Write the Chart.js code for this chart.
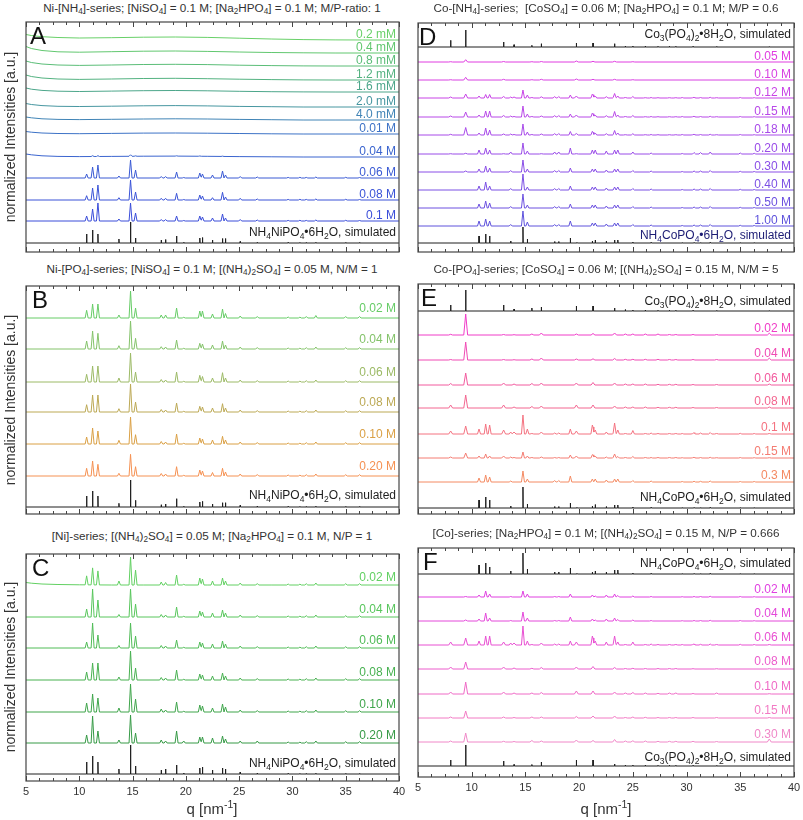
<!DOCTYPE html>
<html>
<head>
<meta charset="utf-8">
<script src="https://cdn.jsdelivr.net/npm/chart.js@4.4.0/dist/chart.umd.min.js"></script>
<style>
  body { margin: 0; background: #fff; font-family: "Liberation Sans", Arial, sans-serif; color: #333; }
  #page { position: relative; width: 803px; height: 820px; overflow: hidden; }
  canvas { position: absolute; }
  .title { position: absolute; font-size: 11.7px; line-height: 14px; white-space: nowrap; transform: translateX(-50%); color: #333; }
  .ylab { position: absolute; font-size: 14px; white-space: nowrap; transform: translate(-50%, -50%) rotate(-90deg); color: #333; }
  .xlab { position: absolute; font-size: 15px; line-height: 17px; white-space: nowrap; transform: translateX(-50%); color: #333; }
  sub { font-size: 70%; line-height: 0; vertical-align: -0.3em; }
  sup { font-size: 70%; line-height: 0; vertical-align: 0.55em; }
</style>
</head>
<body>
<div id="page"></div>
<script>
// peak positions (q, nm^-1) of the three phases
const qNi = [10.69, 11.25, 11.75, 13.72, 14.81, 15.28, 17.69, 18.10, 19.13, 19.80, 21.31, 21.56, 22.50, 23.44, 23.72, 25.10, 26.70, 29.60, 30.70, 31.30, 32.20, 35.00, 36.30];
const qCo = [10.68, 11.30, 11.67, 13.63, 14.77, 15.18, 17.72, 18.10, 19.18, 19.80, 21.23, 21.50, 22.53, 23.30, 23.60, 25.00, 26.70, 29.60, 30.70, 31.30, 32.20, 35.00, 36.30];
const qCo3 = [8.04, 9.44, 12.97, 13.94, 15.60, 16.48, 19.74, 21.29, 23.30, 24.30, 25.00, 26.16, 27.34, 28.40, 29.00, 30.60, 32.80, 37.70];
// grid for the broad (amorphous) backgrounds
const bgQ = [5, 5.5, 6.5, 8, 10, 13, 16, 19, 22, 25, 28, 31, 34, 37, 40];
const tickLabels = [5, 10, 15, 20, 25, 30, 35, 40];

// ---- A : Ni-[NH4]-series
const labelsA = ['0.2 mM', '0.4 mM', '0.8 mM', '1.2 mM', '1.6 mM', '2.0 mM', '4.0 mM', '0.01 M', '0.04 M', '0.06 M', '0.08 M', '0.1 M'];
const offsetsA = [212, 199, 186, 172, 160, 145, 132, 118, 95, 74, 52, 31];
const bgA = [
  [5.5, 4.5, 3.3, 2.5, 2, 2.3, 2.8, 3, 2.6, 1.8, 1, 0.4, 0.1, 0, 0],
  [6.5, 4.5, 2.5, 1.2, 0.8, 1.3, 1.8, 2, 1.6, 1, 0.5, 0.2, 0, 0, 0],
  [5, 3.5, 2, 1, 0.6, 1, 1.5, 1.7, 1.4, 0.8, 0.4, 0.1, 0, 0, 0],
  [5, 3.5, 2, 1, 0.6, 1, 1.5, 1.7, 1.3, 0.8, 0.4, 0.1, 0, 0, 0],
  [4, 2.8, 1.6, 0.8, 0.5, 0.9, 1.3, 1.5, 1.2, 0.7, 0.3, 0.1, 0, 0, 0],
  [3.5, 2.5, 1.4, 0.7, 0.5, 0.8, 1.2, 1.4, 1.1, 0.6, 0.3, 0, 0, 0, 0],
  [3, 2.2, 1.2, 0.6, 0.4, 0.7, 1, 1.2, 1, 0.6, 0.3, 0, 0, 0, 0],
  [2.5, 1.8, 1, 0.5, 0.3, 0.6, 0.9, 1, 0.8, 0.5, 0.2, 0, 0, 0, 0],
  [3, 2.2, 1.2, 0.6, 0.4, 0.6, 0.8, 0.9, 0.7, 0.4, 0.2, 0, 0, 0, 0],
  null, null, null
];
const niA = [
  null, null, null, null, null, null, null, null,
  [0, 0.8, 0.8, 0, 1.5, 0.4, 0, 0, 0.3, 0, 0.3, 0, 0, 0.3, 0, 0, 0, 0, 0, 0, 0, 0, 0],
  [4, 11, 13, 2, 18, 8, 1.5, 1.5, 6, 0.5, 5, 4, 3, 7, 3, 1.5, 1, 0.6, 0.7, 0.6, 1, 0.7, 0.5],
  [4.3, 12, 15, 2.3, 20, 8, 1.7, 1.7, 6.7, 0.5, 5, 4, 2.3, 7.7, 3, 1.7, 1, 0.6, 0.7, 0.6, 1, 0.7, 0.5],
  [5, 12, 18, 2, 18, 8, 1.5, 1.5, 5, 0.5, 5, 4, 3, 7, 3, 1.5, 1, 0.6, 0.7, 0.6, 1, 0.7, 0.5]
];
const simA = [9, 13, 9, 4, 21, 5, 3, 3.5, 7, 0.7, 5, 5.5, 3, 4.5, 4.5, 1.5, 0.7, 0.5, 0.5, 0.5, 0.7, 0.5, 0.5];
const simOffsetA = 9;

// ---- B : Ni-[PO4]-series
const labelsB = ['0.02 M', '0.04 M', '0.06 M', '0.08 M', '0.10 M', '0.20 M'];
const offsetsB = [196, 165, 132, 102, 70, 38];
const niB = [
  [7.7, 14, 14, 3, 27, 10, 3, 3, 10, 0.7, 7, 7, 4, 9, 4.5, 2, 1.5, 1, 0.8, 1.5, 2.5, 1.5, 1.5],
  [8, 18, 15.7, 3.3, 28, 10.7, 2.3, 2, 9, 0.7, 5.7, 5, 4, 8, 4, 2, 1.5, 1, 0.8, 1.3, 2, 1.3, 1.3],
  [7.7, 16, 16, 4, 29, 10, 2.5, 2, 10, 0.7, 6.7, 5.5, 4, 9.3, 4, 2, 1.5, 1, 0.8, 1.3, 2, 1.3, 1.3],
  [7.3, 17, 17, 3.3, 28, 10, 2.5, 2, 9, 0.7, 5.7, 5, 4, 8.3, 4, 2, 1.5, 1, 0.8, 1.3, 2, 1.3, 1.3],
  [7, 16, 13, 3.7, 27, 9.3, 2.5, 2, 10, 0.7, 6, 5, 4, 7.7, 4, 2, 1.5, 1, 0.8, 1.3, 2, 1.3, 1.3],
  [7.7, 15, 11.7, 2.7, 21.7, 9.3, 2.5, 2, 9.3, 0.7, 6, 5, 3.5, 7.7, 4, 2, 1.5, 1, 0.8, 1.3, 2, 1.3, 1.3]
];
const simB = [11, 16, 11, 3.7, 27, 6.7, 2.3, 3, 8.3, 0.7, 5, 5.7, 3, 4.3, 4.3, 1.7, 1, 0.5, 0.5, 0.5, 0.8, 0.5, 0.5];
const simOffsetB = 7;

// ---- C : [Ni]-series
const labelsC = ['0.02 M', '0.04 M', '0.06 M', '0.08 M', '0.10 M', '0.20 M'];
const offsetsC = [196, 164, 133, 101, 69, 38];
const bgC = [[2.5, 1.8, 1, 0.5, 0.2, 0, 0, 0, 0, 0, 0, 0, 0, 0, 0], null, null, null, null, null];
const niC = [
  [9, 17, 14, 4, 28, 15, 3, 2.5, 10, 0.7, 7, 6, 4, 7, 4, 2, 1.5, 1, 0.8, 1.3, 2, 1.3, 1.3],
  [8, 28, 17, 2.5, 28, 13, 2.5, 2, 10, 0.7, 6, 5, 4, 7, 4, 2, 1.5, 1, 0.8, 1.3, 2, 1.3, 1.3],
  [6, 25, 13, 2.5, 25, 12, 2.5, 2, 8, 0.7, 6, 5, 4, 7, 4, 2, 1.5, 1, 0.8, 1.3, 2, 1.3, 1.3],
  [8, 17, 17, 3, 29, 12, 2.5, 2, 10, 0.7, 6, 5, 4, 7, 4, 2, 1.5, 1, 0.8, 1.3, 2, 1.3, 1.3],
  [9, 18, 14, 4, 28, 13, 3, 2, 10, 0.7, 7, 6, 4, 8, 5, 2, 1.5, 1, 0.8, 1.3, 2, 1.3, 1.3],
  [8, 27, 12, 3, 28, 10, 3, 2, 12, 2, 6, 6, 5, 7, 4, 2, 2, 1, 0.8, 1.3, 2, 1.3, 1.3]
];
const simC = [12, 18, 12, 5, 29, 8, 4, 5, 9, 1, 6, 7, 4, 6, 5, 2, 1, 0.5, 0.5, 0.5, 0.8, 0.5, 0.5];
const simOffsetC = 7;

// ---- D : Co-[NH4]-series
const simTopD = [6.7, 17, 5, 2.3, 1.7, 3.3, 4, 4, 3.3, 1, 1, 1, 0.7, 0.7, 0.7, 0.5, 0.5, 0.3];
const simTopOffsetD = 205;
const labelsD = ['0.05 M', '0.10 M', '0.12 M', '0.15 M', '0.18 M', '0.20 M', '0.30 M', '0.40 M', '0.50 M', '1.00 M'];
const offsetsD = [190, 172, 154, 135, 117, 98, 80, 62, 44, 26];
const co3D = [
  [0.3, 2.3, 0.5, 0, 0.3, 0.5, 1, 0.7, 0.7, 0, 0.3, 0, 0, 0, 0, 0, 0, 0],
  [0.3, 2.7, 0.7, 0, 0.3, 0.7, 1, 0.7, 0.7, 0, 0.3, 0, 0, 0, 0, 0, 0, 0],
  [1, 4, 1.5, 1, 0.5, 1.2, 2, 1.5, 1.5, 0.5, 0.5, 0.3, 0.3, 0.3, 0.3, 0.3, 0.3, 0],
  [1, 5, 1.5, 0.5, 0.5, 1, 2, 1.5, 1.5, 0.5, 0.5, 0.3, 0.3, 0.3, 0.3, 0.3, 0.3, 0],
  [0.7, 7.5, 1, 0.5, 0.5, 1, 1.5, 1, 1, 0.3, 0.3, 0.3, 0.3, 0.3, 0.3, 0.3, 0.3, 0],
  [0.3, 0.7, 0.3, 0, 0, 0.3, 0.3, 0, 0, 0, 0, 0, 0, 0, 0, 0, 0, 0],
  [0, 1, 0, 0, 0, 0, 0, 0, 0, 0, 0, 0, 0, 0, 0, 0, 0, 0],
  null, null, null
];
const coD = [
  null, null,
  [2, 3.5, 3.5, 1, 8, 3, 1.5, 1.5, 3, 0, 3, 2, 1.5, 3, 2, 1, 0.5, 0.5, 0.5, 0.5, 0.7, 0.5, 0.3],
  [2, 6, 6, 1, 11, 3, 1.5, 1.5, 3, 0, 3, 2, 1.5, 4, 2, 1, 0.5, 0.5, 0.5, 0.5, 0.7, 0.5, 0.3],
  [2, 7, 5, 1, 11, 3, 1.5, 1.5, 3.5, 0, 3, 2, 1.5, 3.5, 2, 1, 0.5, 0.5, 0.5, 0.5, 0.7, 0.5, 0.3],
  [4, 6, 4, 2, 11, 3, 2, 2, 6, 0, 4, 4, 3, 4, 4, 2, 1, 0.5, 1.5, 1.5, 2, 1, 0.7],
  [3, 6, 4, 1.5, 12, 3, 1.5, 1.5, 4, 0, 3, 3, 2, 3, 3, 1.5, 1, 0.5, 1, 1, 1.5, 0.7, 0.5],
  [4, 8, 4, 1.5, 16, 3, 1.5, 1.5, 4, 0, 3, 3, 2, 3, 3, 1.5, 1, 0.5, 1, 1, 1.5, 0.7, 0.5],
  [4, 7, 5, 1.5, 14, 3, 1.5, 1.5, 4, 0, 3, 3, 2, 3, 3, 1.5, 1, 0.5, 1, 1, 1.5, 0.7, 0.5],
  [5, 7, 5, 1.5, 15, 4, 1.5, 1.5, 5, 0, 3, 3, 2, 3, 3, 1.5, 1, 0.5, 1, 1, 1.5, 0.7, 0.5]
];
const simD = [7, 9, 7, 2, 16, 4, 1.5, 1.5, 5, 0.5, 2, 3, 2, 3, 3, 1, 0.5, 0.3, 0.3, 0.3, 0.5, 0.3, 0.3];
const simOffsetD = 9;

// ---- E : Co-[PO4]-series
const simTopE = [6, 21, 6, 2, 3, 4, 5, 5, 3, 1.5, 1, 1, 0.7, 0.7, 0.7, 0.5, 0.5, 0.3];
const simTopOffsetE = 203;
const labelsE = ['0.02 M', '0.04 M', '0.06 M', '0.08 M', '0.1 M', '0.15 M', '0.3 M'];
const offsetsE = [179, 154, 129, 106, 80, 56, 32];
const co3E = [
  [0.7, 21, 0.5, 0.3, 1, 2, 1, 1.5, 2, 1, 1, 1, 1, 0.5, 0.5, 0.5, 0.5, 1.8],
  [0.5, 18, 0.5, 0.3, 1, 2, 1, 1.2, 1.5, 0.7, 0.7, 0.7, 0.7, 0.5, 0.5, 0.5, 0.5, 1.8],
  [1.5, 12, 2, 1, 1.5, 2, 2, 2.5, 2, 1, 1, 1, 0.7, 0.7, 0.7, 0.5, 0.5, 1],
  [3, 13, 3, 1, 1.5, 2, 3, 3, 2, 1, 1, 1, 0.7, 0.7, 0.7, 0.5, 0.5, 1],
  [3, 8, 4, 2, 0.5, 2, 3, 3, 3, 0.5, 0.5, 0.5, 0.5, 0.5, 0.5, 0.5, 0.5, 0.5],
  [1, 5, 2, 0.5, 0.5, 1, 2, 2, 2, 0.5, 0.5, 0.5, 0.5, 0.5, 0.5, 0.3, 0.3, 0.3],
  null
];
const coE = [
  null, null, null, null,
  [5, 10, 9, 2, 19, 5, 1, 1, 5, 0, 7, 4, 2, 8, 4, 3, 1, 0.5, 1, 1, 1.5, 0.7, 0.5],
  [2, 4, 2, 1, 6, 2, 0.5, 0.5, 3, 0, 2, 2, 1, 2, 1.5, 1, 0.5, 0.3, 0.5, 0.5, 0.7, 0.5, 0.3],
  [4, 7, 5, 1, 11, 3, 1.5, 1.5, 6, 0, 3, 3, 2, 3, 3, 1.5, 1, 0.5, 0.7, 0.7, 1, 0.5, 0.5]
];
const simE = [8, 11, 8, 2, 21, 4, 1.5, 1.5, 5, 0.5, 2, 3.5, 1.5, 3, 3, 1, 0.5, 0.3, 0.3, 0.3, 0.5, 0.3, 0.3];
const simOffsetE = 6;

// ---- F : [Co]-series
const simTopF = [9, 11, 7, 3, 21, 5, 2, 2, 6, 0.5, 2, 3, 2, 4, 4, 1, 0.5, 0.3, 0.3, 0.3, 0.5, 0.3, 0.3];
const simTopOffsetF = 203;
const labelsF = ['0.02 M', '0.04 M', '0.06 M', '0.08 M', '0.10 M', '0.15 M', '0.30 M'];
const offsetsF = [180, 156, 132, 108, 83, 59, 35];
const co3F = [
  [0, 0.5, 0, 0, 0, 0, 0, 0, 0, 0, 0, 0, 0, 0, 0, 0, 0, 0],
  [0, 1, 0, 0, 0, 0, 0, 0, 0, 0, 0, 0, 0, 0, 0, 0, 0, 0],
  [3, 7, 3, 2, 0.5, 2, 3, 3, 2, 0.5, 1, 0.5, 0.5, 0.5, 0.5, 0.5, 0.5, 0.5],
  [2, 7, 2, 1, 0.7, 1.5, 2, 2.5, 1.5, 0.5, 0.7, 0.5, 0.5, 0.5, 0.5, 0.3, 0.3, 0.3],
  [2, 12, 2, 1, 1, 1.5, 3, 3, 2, 1, 1.5, 1, 0.7, 1, 1, 0.5, 1, 0.3],
  [1, 7, 1, 0.5, 1, 1, 1.5, 2, 2, 0.5, 1, 0.7, 0.5, 0.5, 0.5, 0.5, 0.5, 0.5],
  [1, 9, 0.7, 0.5, 1.5, 1, 2, 1.5, 2.5, 1, 1.2, 1, 0.7, 0.7, 0.7, 0.7, 0.5, 3]
];
const coF = [
  [2, 6, 3, 0.5, 6, 3, 0.5, 0.5, 3, 0, 2, 1, 2, 3, 1.5, 1, 0.5, 0.3, 0.5, 0.5, 0.7, 0.5, 0.3],
  [2, 8, 3, 0.5, 9, 3, 0.5, 0.5, 4, 0, 2, 1, 2, 3, 1.5, 1, 0.5, 0.3, 0.5, 0.5, 0.7, 0.5, 0.3],
  [4, 9, 9, 2, 19, 4, 1, 1, 4, 0, 7, 4, 3, 7, 3, 2, 1, 0.5, 0.7, 0.7, 1, 0.7, 0.5],
  null, null, null, null
];
const simF = [6, 21, 5, 1.5, 1.5, 4, 6, 6, 2, 1, 1, 1, 0.7, 0.7, 0.7, 0.5, 0.5, 0.3];
const simOffsetF = 11;

// colours
const colorsA = ['#68d068', '#61c76f', '#5abd77', '#53b280', '#4ca68a', '#4696a0', '#4084b6', '#3c72c6', '#3a64cf', '#3a5ad4', '#3a53d7', '#3a4dd9'];
const colorsB = ['#66cc66', '#84c36a', '#9cba66', '#bca955', '#daa045', '#f59152'];
const colorsC = ['#62d062', '#58c65c', '#50bc57', '#48b151', '#3fa54b', '#369a46'];
const colorsD = ['#e03ce0', '#d840e2', '#c844e6', '#b848e8', '#a84ae9', '#9a4ce8', '#8a4ee7', '#7b50e4', '#6c51e0', '#5e52dc'];
const colorsE = ['#f03cc8', '#f04ab4', '#f25a9e', '#f36690', '#f47280', '#f47c72', '#f48a62'];
const colorsF = ['#e040e0', '#e448da', '#e850d2', '#ec5ccc', '#ef6ac6', '#f27ac4', '#f088c8'];
const SIM_COLOR = '#1e1e1e';

const W_EXP = 0.14, W_CO3 = 0.18, W_SIM = 0.02;
const FONT = '"Liberation Sans", Arial, sans-serif';

const page = document.getElementById('page');

function bgAt(bg, x) {
  for (let i = 0; i < bgQ.length - 1; i++) {
    if (x <= bgQ[i + 1]) {
      const t = (x - bgQ[i]) / (bgQ[i + 1] - bgQ[i]);
      return bg[i] + t * (bg[i + 1] - bg[i]);
    }
  }
  return bg[bg.length - 1];
}

// line through baseline + triangular peaks at the read positions/heights
function buildTrace(offset, phases, bg) {
  const xs = [5, 40];
  if (bg) xs.push(...bgQ);
  phases.forEach(p => p.q.forEach((q, i) => {
    if (p.h[i] > 0) xs.push(q - p.w, q, q + p.w);
  }));
  const uniq = [...new Set(xs.map(x => +x.toFixed(4)))].sort((a, b) => a - b);
  return uniq.map(x => {
    let y = offset + (bg ? bgAt(bg, x) : 0);
    phases.forEach(p => p.q.forEach((q, i) => {
      const d = Math.abs(x - q);
      if (p.h[i] > 0 && d < p.w) y += p.h[i] * (1 - d / p.w);
    }));
    return { x, y };
  });
}

function expTraces(labels, offsets, colors, lift, sets, bgs) {
  return labels.map((lab, i) => {
    const phases = [];
    sets.forEach(s => { if (s.h[i]) phases.push({ q: s.q, h: s.h[i], w: s.w }); });
    return { label: lab, color: colors[i], textColor: colors[i], offset: offsets[i], lift: lift,
             data: buildTrace(offsets[i], phases, bgs ? bgs[i] : null) };
  });
}

function simTrace(label, q, h, offset, lift, textColor) {
  return { label: label, color: SIM_COLOR, textColor: textColor || SIM_COLOR, offset: offset, lift: lift,
           data: buildTrace(offset, [{ q: q, h: h, w: W_SIM }], null) };
}

function drawRich(ctx, text, xRight, yBase, color) {
  const parts = text.split(/_(\d)/);
  const big = '12px ' + FONT, small = '8.5px ' + FONT;
  let total = 0;
  parts.forEach((p, i) => { ctx.font = i % 2 ? small : big; total += ctx.measureText(p).width; });
  let x = xRight - total;
  ctx.fillStyle = color;
  ctx.textAlign = 'left';
  ctx.textBaseline = 'alphabetic';
  parts.forEach((p, i) => {
    ctx.font = i % 2 ? small : big;
    ctx.fillText(p, x, yBase + (i % 2 ? 3 : 0));
    x += ctx.measureText(p).width;
  });
}

function decor(cfg) {
  return {
    id: 'decor',
    afterDraw(chart) {
      const { ctx, chartArea: a, scales } = chart;
      const xs = scales.x, ys = scales.y;
      ctx.save();
      ctx.strokeStyle = '#454545';
      ctx.lineWidth = 1.2;
      ctx.strokeRect(a.left, a.top, a.right - a.left, a.bottom - a.top);
      ctx.lineWidth = 1;
      for (let v = 5; v <= 40; v += 1.25) {
        const x = Math.round(xs.getPixelForValue(v)) + 0.5;
        const len = v % 5 === 0 ? 5 : 3;
        ctx.beginPath();
        ctx.moveTo(x, a.bottom); ctx.lineTo(x, a.bottom - len);
        ctx.moveTo(x, a.top); ctx.lineTo(x, a.top + len);
        ctx.stroke();
      }
      if (cfg.axis) {
        ctx.fillStyle = '#333';
        ctx.font = '11px ' + FONT;
        ctx.textAlign = 'center';
        ctx.textBaseline = 'top';
        tickLabels.forEach(v => ctx.fillText(String(v), xs.getPixelForValue(v), a.bottom + 5));
      }
      cfg.traces.forEach(t => drawRich(ctx, t.label, a.right - 3, ys.getPixelForValue(t.offset) - t.lift, t.textColor));
      ctx.fillStyle = '#111';
      ctx.font = '24px ' + FONT;
      ctx.textAlign = 'left';
      ctx.textBaseline = 'alphabetic';
      ctx.fillText(cfg.letter, a.left + cfg.lx, a.top + 21.5);
      ctx.restore();
    }
  };
}

function makePanel(cfg) {
  const padT = 4, padB = cfg.axis ? 40 : 4;
  const cv = document.createElement('canvas');
  cv.width = cfg.w + 30;
  cv.height = cfg.h + padT + padB;
  cv.style.left = (cfg.x - 15) + 'px';
  cv.style.top = (cfg.y - padT) + 'px';
  page.appendChild(cv);
  new Chart(cv, {
    type: 'scatter',
    data: {
      datasets: cfg.traces.map(t => ({
        data: t.data, borderColor: t.color, borderWidth: 1, showLine: true,
        pointRadius: 0, fill: false, tension: 0
      }))
    },
    options: {
      responsive: false, animation: false, events: [],
      layout: { padding: { left: 15, right: 15, top: padT, bottom: padB } },
      plugins: { legend: { display: false }, tooltip: { enabled: false } },
      scales: {
        x: { type: 'linear', min: 5, max: 40, display: false },
        y: { min: 0, max: cfg.h, display: false }
      }
    },
    plugins: [decor(cfg)]
  });
}

function addText(cls, html, left, top) {
  const d = document.createElement('div');
  d.className = cls;
  d.innerHTML = html;
  d.style.left = left + 'px';
  d.style.top = top + 'px';
  page.appendChild(d);
}

const simNiLabel = 'NH_4NiPO_4•6H_2O, simulated';
const simCoLabel = 'NH_4CoPO_4•6H_2O, simulated';
const simCo3Label = 'Co_3(PO_4)_2•8H_2O, simulated';

makePanel({ x: 26, y: 22, w: 373, h: 230, letter: 'A', lx: 4,
  traces: expTraces(labelsA, offsetsA, colorsA, 2.5, [{ q: qNi, h: niA, w: W_EXP }], bgA)
    .concat([simTrace(simNiLabel, qNi, simA, simOffsetA, 7)]) });
makePanel({ x: 26, y: 286, w: 373, h: 228, letter: 'B', lx: 6,
  traces: expTraces(labelsB, offsetsB, colorsB, 6, [{ q: qNi, h: niB, w: W_EXP }])
    .concat([simTrace(simNiLabel, qNi, simB, simOffsetB, 8)]) });
makePanel({ x: 26, y: 554, w: 373, h: 227, letter: 'C', lx: 6, axis: true,
  traces: expTraces(labelsC, offsetsC, colorsC, 4.5, [{ q: qNi, h: niC, w: W_EXP }], bgC)
    .concat([simTrace(simNiLabel, qNi, simC, simOffsetC, 7)]) });
makePanel({ x: 418, y: 23, w: 376, h: 229, letter: 'D', lx: 1,
  traces: [simTrace(simCo3Label, qCo3, simTopD, simTopOffsetD, 9)]
    .concat(expTraces(labelsD, offsetsD, colorsD, 2, [{ q: qCo3, h: co3D, w: W_CO3 }, { q: qCo, h: coD, w: W_EXP }]))
    .concat([simTrace(simCoLabel, qCo, simD, simOffsetD, 4, '#1c1c74')]) });
makePanel({ x: 418, y: 284, w: 376, h: 230, letter: 'E', lx: 3,
  traces: [simTrace(simCo3Label, qCo3, simTopE, simTopOffsetE, 6)]
    .concat(expTraces(labelsE, offsetsE, colorsE, 3, [{ q: qCo3, h: co3E, w: W_CO3 }, { q: qCo, h: coE, w: W_EXP }]))
    .concat([simTrace(simCoLabel, qCo, simE, simOffsetE, 7)]) });
makePanel({ x: 418, y: 548, w: 376, h: 229, letter: 'F', lx: 5, axis: true,
  traces: [simTrace(simCoLabel, qCo, simTopF, simTopOffsetF, 7)]
    .concat(expTraces(labelsF, offsetsF, colorsF, 4, [{ q: qCo3, h: co3F, w: W_CO3 }, { q: qCo, h: coF, w: W_EXP }]))
    .concat([simTrace(simCo3Label, qCo3, simF, simOffsetF, 5)]) });

// titles
addText('title', 'Ni-[NH<sub>4</sub>]-series; [NiSO<sub>4</sub>] = 0.1 M; [Na<sub>2</sub>HPO<sub>4</sub>] = 0.1 M; M/P-ratio: 1', 212, 1);
addText('title', 'Ni-[PO<sub>4</sub>]-series; [NiSO<sub>4</sub>] = 0.1 M; [(NH<sub>4</sub>)<sub>2</sub>SO<sub>4</sub>] = 0.05 M, N/M = 1', 212, 262);
addText('title', '[Ni]-series; [(NH<sub>4</sub>)<sub>2</sub>SO<sub>4</sub>] = 0.05 M; [Na<sub>2</sub>HPO<sub>4</sub>] = 0.1 M, N/P = 1', 212, 529);
addText('title', 'Co-[NH<sub>4</sub>]-series;&nbsp; [CoSO<sub>4</sub>] = 0.06 M; [Na<sub>2</sub>HPO<sub>4</sub>] = 0.1 M; M/P = 0.6', 606, 1);
addText('title', 'Co-[PO<sub>4</sub>]-series; [CoSO<sub>4</sub>] = 0.06 M; [(NH<sub>4</sub>)<sub>2</sub>SO<sub>4</sub>] = 0.15 M, N/M = 5', 606, 262);
addText('title', '[Co]-series; [Na<sub>2</sub>HPO<sub>4</sub>] = 0.1 M; [(NH<sub>4</sub>)<sub>2</sub>SO<sub>4</sub>] = 0.15 M, N/P = 0.666', 606, 526);

// axis titles
addText('ylab', 'normalized Intensities [a.u.]', 10, 137);
addText('ylab', 'normalized Intensities [a.u.]', 10, 400);
addText('ylab', 'normalized Intensities [a.u.]', 10, 667);
addText('xlab', 'q [nm<sup>-1</sup>]', 212, 800);
addText('xlab', 'q [nm<sup>-1</sup>]', 606, 800);
</script>
</body>
</html>
